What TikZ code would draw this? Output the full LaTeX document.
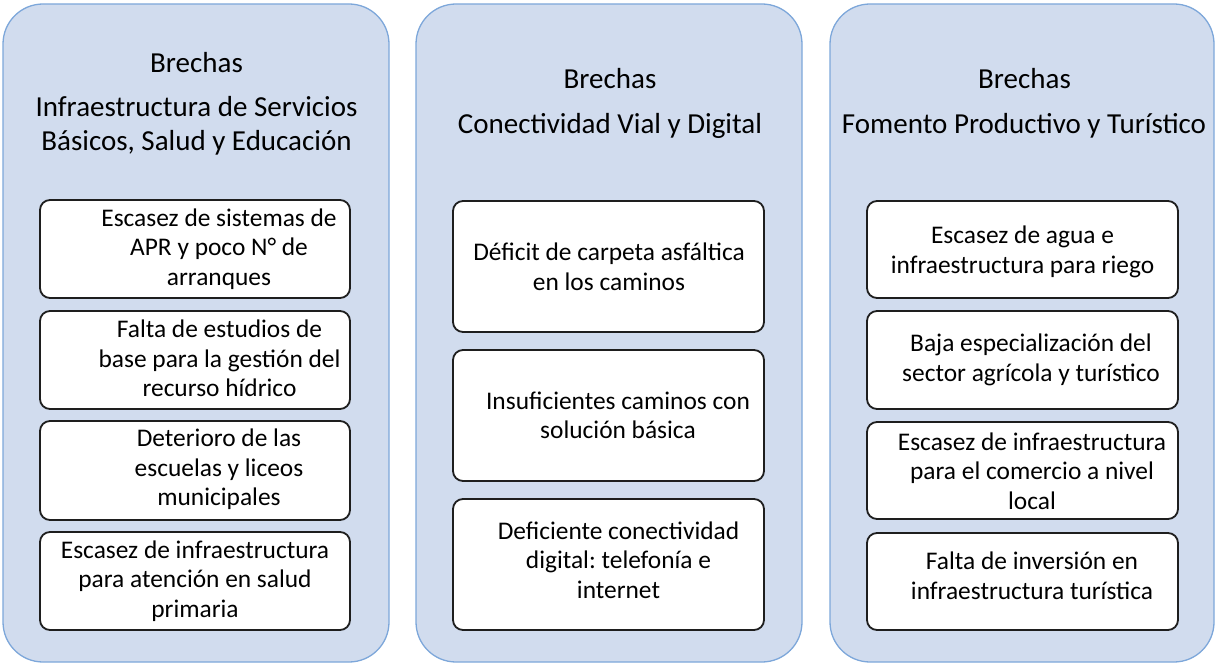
\documentclass[tikz,border=0pt]{standalone}
\usepackage{fontspec}
\setmainfont{Carlito}
\frenchspacing
\definecolor{panelfill}{HTML}{D1DCEE}
\definecolor{paneldraw}{HTML}{7DA7DA}
\definecolor{boxdraw}{HTML}{1E1E1E}
\tikzset{
  panel/.style={draw=paneldraw, line width=1.3pt, fill=panelfill, rounded corners=40pt},
  itembox/.style={draw=boxdraw, line width=1.8pt, fill=white, rounded corners=10pt},
  ttl/.style={font=\fontsize{29}{34}\selectfont, align=center, text=black, inner sep=0pt},
  itxt/.style={font=\fontsize{25.4}{29.5}\selectfont, align=center, text=black, inner sep=0pt},
}
\begin{document}
\begin{tikzpicture}[x=1pt,y=-1pt]
\useasboundingbox (0,0) rectangle (1215,663);
% panels
\draw[panel] (3,4) rectangle (389,662);
\draw[panel] (416,4) rectangle (802,662);
\draw[panel] (830,4) rectangle (1214,662);
% titles
\node[ttl] (t1a) at (196.5,63) {Brechas};
\node[ttl] (t1b) at (196.5,125.5) {Infraestructura de Servicios\\Básicos, Salud y Educación};
\node[ttl] (t2a) at (610,79) {Brechas};
\node[ttl] (t2b) at (610,126) {Conectividad Vial y Digital};
\node[ttl] (t3a) at (1024.5,79) {Brechas};
\node[ttl] (t3b) at (1024,126) {Fomento Productivo y Turístico};
% panel 1 boxes
\draw[itembox] (40,200) rectangle (350,298);
\draw[itembox] (40,311) rectangle (350,409);
\draw[itembox] (40,421) rectangle (350,520);
\draw[itembox] (40,532) rectangle (350,630);
\node[itxt] (a1) at (219,249) {Escasez de sistemas de\\APR y poco N° de\\arranques};
\node[itxt] (a2) at (219.5,358.5) {Falta de estudios de\\base para la gestión del\\recurso hídrico};
\node[itxt] (a3) at (219,469.5) {Deterioro de las\\escuelas y liceos\\municipales};
\node[itxt] (a4) at (195,581) {Escasez de infraestructura\\para atención en salud\\primaria};
% panel 2 boxes
\draw[itembox] (453,201) rectangle (764,332);
\draw[itembox] (453,350) rectangle (764,481);
\draw[itembox] (453,499) rectangle (764,630);
\node[itxt] (b1) at (609,267) {Déficit de carpeta asfáltica\\en los caminos};
\node[itxt] (b2) at (618,415.5) {Insuficientes caminos con\\solución básica};
\node[itxt] (b3) at (618.5,560) {Deficiente conectividad\\digital: telefonía e\\internet};
% panel 3 boxes
\draw[itembox] (867,201) rectangle (1178,298);
\draw[itembox] (867,311) rectangle (1178,409);
\draw[itembox] (867,422) rectangle (1178,519);
\draw[itembox] (867,533) rectangle (1178,630);
\node[itxt] (c1) at (1022.5,252) {Escasez de agua e\\infraestructura para riego};
\node[itxt] (c2) at (1031,360) {Baja especialización del\\sector agrícola y turístico};
\node[itxt] (c3) at (1032,471) {Escasez de infraestructura\\para el comercio a nivel\\local};
\node[itxt] (c4) at (1032,576) {Falta de inversión en\\infraestructura turística};
\end{tikzpicture}
\end{document}
